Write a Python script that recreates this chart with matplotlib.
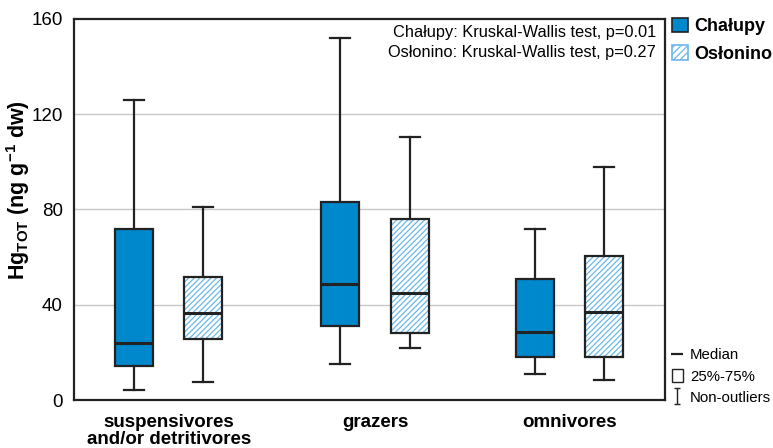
import matplotlib.pyplot as plt
from matplotlib.patches import Patch, PathPatch
from matplotlib.lines import Line2D
from matplotlib.path import Path

plt.rcParams['font.family'] = ['Liberation Sans', 'DejaVu Sans']
plt.rcParams['hatch.linewidth'] = 0.9

groups = ['suspensivores\nand/or detritivores', 'grazers', 'omnivores']
centers = [1.0, 2.03, 3.0]

# whisker low, Q1, median, Q3, whisker high
chalupy = [(4.2, 14.3, 24.0, 72.0, 126.0),
           (15.0, 31.0, 48.7, 83.2, 152.0),
           (10.9, 18.0, 28.6, 50.8, 71.8)]
oslonino = [(7.6, 25.6, 36.5, 51.7, 81.0),
            (21.8, 28.0, 45.0, 76.0, 110.5),
            (8.4, 18.0, 37.0, 60.5, 97.9)]

def stats(rows):
    return [dict(whislo=r[0], q1=r[1], med=r[2], q3=r[3], whishi=r[4], fliers=[]) for r in rows]

blue = '#0088cc'
hatch_blue = '#6bb8e8'
edge = '#222222'

fig = plt.figure(figsize=(7.73, 4.48), dpi=100)
ax = fig.add_axes([74/773, 48/448, 591/773, 381/448])

for i in range(3):
    ax.axhline(40 * (i + 1), color='#c8c8c8', lw=1, zorder=0)

common = dict(widths=0.19, patch_artist=True, showfliers=False, manage_ticks=False,
              whiskerprops=dict(color=edge, lw=1.6),
              capprops=dict(color=edge, lw=1.6),
              medianprops=dict(color=edge, lw=2.2, zorder=4),
              capwidths=0.1)
ax.bxp(stats(chalupy), positions=[c - 0.175 for c in centers],
       boxprops=dict(facecolor=blue, edgecolor=edge, lw=1.6), **common)
b2 = ax.bxp(stats(oslonino), positions=[c + 0.17 for c in centers],
            boxprops=dict(facecolor='white', edgecolor=hatch_blue, lw=0, hatch='//////'), **common)
# dark outline over the hatched boxes
for p in b2['boxes']:
    ax.add_patch(PathPatch(p.get_path(), fill=False, edgecolor=edge, lw=1.6, zorder=3))

ax.set_xlim(0.525, 3.475)
ax.set_ylim(0, 160)
ax.set_yticks([0, 40, 80, 120, 160])
ax.tick_params(axis='y', length=0, labelsize=13.5, pad=8)
ax.set_xticks(centers)
ax.set_xticklabels(groups, fontsize=13.5, fontweight='bold', linespacing=1.0)
ax.tick_params(axis='x', length=0, pad=10)
for s in ax.spines.values():
    s.set_linewidth(1.6)
    s.set_color(edge)
ax.set_ylabel(r'Hg$_{\mathregular{TOT}}$ (ng g$^{\mathregular{-1}}$ dw)', fontsize=15.5,
              fontweight='bold')
ax.yaxis.set_label_coords(-0.071, 0.55)

ax.text(0.985, 0.983, 'Chałupy: Kruskal-Wallis test, p=0.01\nOsłonino: Kruskal-Wallis test, p=0.27',
        transform=ax.transAxes, ha='right', va='top', fontsize=11.8, linespacing=1.35)

handles = [Patch(facecolor=blue, edgecolor=edge, lw=1.2, label='Chałupy'),
           Patch(facecolor='white', edgecolor=hatch_blue, lw=1.2, hatch='/////', label='Osłonino')]
leg = fig.legend(handles=handles, loc='upper left', bbox_to_anchor=(672/773, 1 - 18/448),
                 frameon=False, handlelength=0.9, handleheight=0.85, handletextpad=0.35,
                 borderpad=0, borderaxespad=0,
                 prop=dict(size=13, weight='bold'), labelspacing=0.55)

ibar = Path([(-0.4, -1), (0.4, -1), (0, -1), (0, 1), (-0.4, 1), (0.4, 1)],
            [Path.MOVETO, Path.LINETO, Path.MOVETO, Path.LINETO, Path.MOVETO, Path.LINETO])
key = [Line2D([], [], color=edge, marker='_', ms=9, lw=0, mew=1.6, label='Median'),
       Patch(facecolor='white', edgecolor=edge, lw=1.0, label='25%-75%'),
       Line2D([], [], color=edge, marker=ibar, ms=11, lw=0, mew=1.0, label='Non-outliers')]
fig.legend(handles=key, loc='upper left', bbox_to_anchor=(672/773, 1 - 348/448),
           frameon=False, handlelength=0.7, handleheight=0.9, handletextpad=0.5,
           borderpad=0, borderaxespad=0,
           fontsize=10.8, labelspacing=0.45)

fig.savefig('out.png', dpi=100)
